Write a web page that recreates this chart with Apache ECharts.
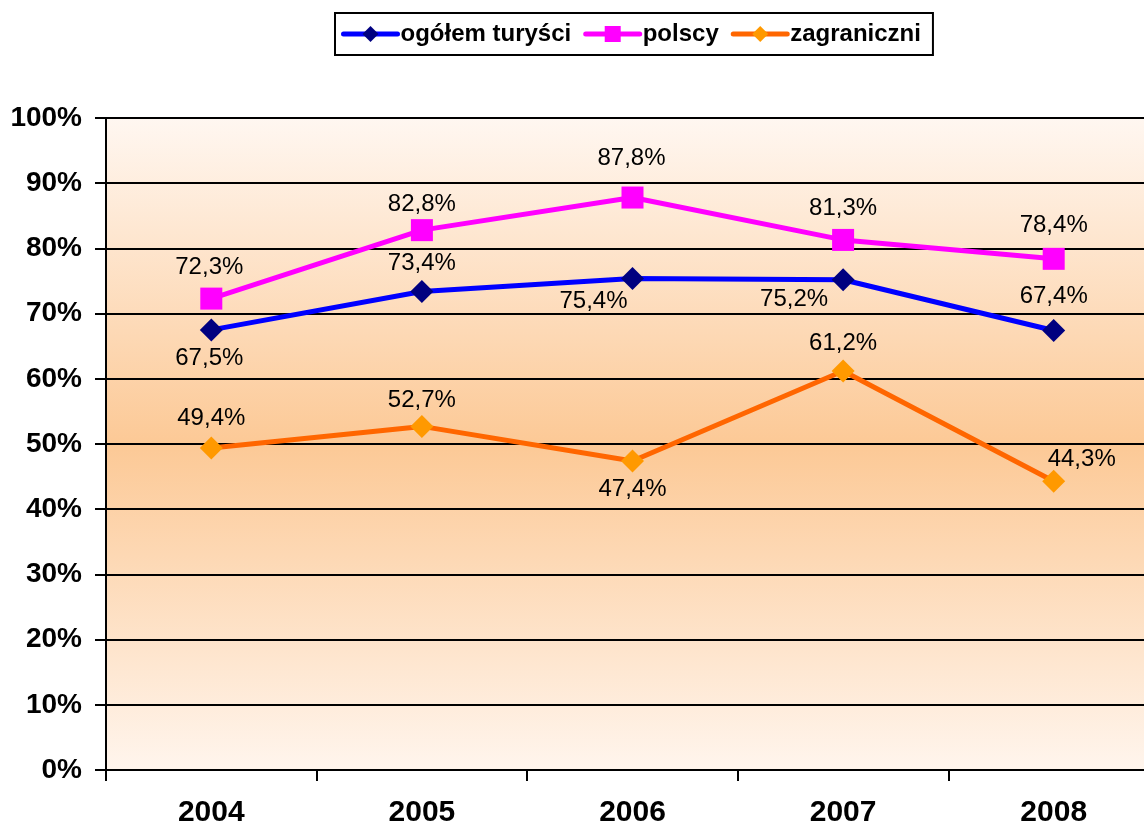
<!DOCTYPE html>
<html>
<head>
<meta charset="utf-8">
<script src="https://cdn.jsdelivr.net/npm/echarts@6/dist/echarts.min.js"></script>
<style>html,body{margin:0;padding:0;background:#fff;overflow:hidden;width:1144px;height:828px;}#c{width:1160px;height:828px;}</style>
</head>
<body>
<div id="c"></div>
<script>
const years = ['2004', '2005', '2006', '2007', '2008'];
const ogolem = [67.5, 73.4, 75.4, 75.2, 67.4];
const polscy = [72.3, 82.8, 87.8, 81.3, 78.4];
const zagraniczni = [49.4, 52.7, 47.4, 61.2, 44.3];
const seriesNames = ['ogółem turyści', 'polscy', 'zagraniczni'];
const yTicks = [0, 10, 20, 30, 40, 50, 60, 70, 80, 90, 100];

// label offsets (pixel placement of value labels relative to marker)
const ogolemOff = [[-2, 28], [0, -28], [-39, 23], [-49, 20], [0, -34]];
const polscyOff = [[-2, -31], [0, -26], [-1, -39], [0, -32], [0, -33]];
const zagrOff = [[0, -30], [0, -26], [0, 28], [0, -28], [28, -22]];

function fmt(v) { return v.toFixed(1).replace('.', ',') + '%'; }
function mk(vals, offs) {
  return vals.map((v, i) => ({
    value: v,
    label: { show: true, position: 'inside', offset: offs[i], formatter: fmt(v) }
  }));
}
const labelStyle = { color: '#000', fontSize: 24, fontFamily: 'Liberation Sans, Arial, sans-serif' };

const chart = echarts.init(document.getElementById('c'), null, { renderer: 'canvas' });
chart.setOption({
  animation: false,
  backgroundColor: '#fff',
  textStyle: { fontFamily: 'Liberation Sans, Arial, sans-serif' },
  legend: {
    left: 335, top: 13,
    padding: [9, 12, 9, 6],
    borderColor: '#000', borderWidth: 2,
    itemWidth: 54, itemHeight: 20, itemGap: 12,
    textStyle: { fontSize: 24, fontWeight: 'bold', color: '#000', fontFamily: 'Liberation Sans, Arial, sans-serif', padding: [0, 0, 0, -2] },
    data: [
      { name: seriesNames[0], lineStyle: { width: 5, cap: 'round' } },
      { name: seriesNames[1], lineStyle: { width: 5, cap: 'round' } },
      { name: seriesNames[2], lineStyle: { width: 5, cap: 'round' } }
    ]
  },
  grid: {
    left: 106, top: 118, width: 1053, height: 656,
    show: true, borderWidth: 0,
    backgroundColor: new echarts.graphic.LinearGradient(0, 0, 0, 1, [
      { offset: 0, color: '#fff7f1' },
      { offset: 0.5, color: '#fcc996' },
      { offset: 1, color: '#fff5ed' }
    ])
  },
  xAxis: {
    type: 'category', data: years, boundaryGap: true,
    axisLine: { lineStyle: { color: '#000', width: 2 } },
    axisTick: { show: true, length: 11, lineStyle: { color: '#000', width: 2 } },
    axisLabel: { color: '#000', fontSize: 30, fontWeight: 'bold', margin: 28 }
  },
  yAxis: {
    type: 'value', min: yTicks[0], max: yTicks[yTicks.length - 1], interval: 10,
    axisLine: { show: true, lineStyle: { color: '#000', width: 2 } },
    axisTick: { show: true, length: 11, lineStyle: { color: '#000', width: 2 } },
    splitLine: { show: true, lineStyle: { color: '#000', width: 2 } },
    axisLabel: { color: '#000', fontSize: 28, fontWeight: 'bold', margin: 24, formatter: v => v + '%' }
  },
  series: [
    {
      name: seriesNames[0], type: 'line', data: mk(ogolem, ogolemOff),
      symbol: 'diamond', symbolSize: 23,
      lineStyle: { color: '#0000ff', width: 5 },
      itemStyle: { color: '#000080' },
      label: labelStyle, z: 3
    },
    {
      name: seriesNames[1], type: 'line', data: mk(polscy, polscyOff),
      symbol: 'rect', symbolSize: 22,
      lineStyle: { color: '#ff00ff', width: 5 },
      itemStyle: { color: '#ff00ff' },
      label: labelStyle, z: 3
    },
    {
      name: seriesNames[2], type: 'line', data: mk(zagraniczni, zagrOff),
      symbol: 'diamond', symbolSize: 23,
      lineStyle: { color: '#ff6600', width: 5 },
      itemStyle: { color: '#ff9900' },
      label: labelStyle, z: 3
    }
  ]
});
</script>
</body>
</html>
